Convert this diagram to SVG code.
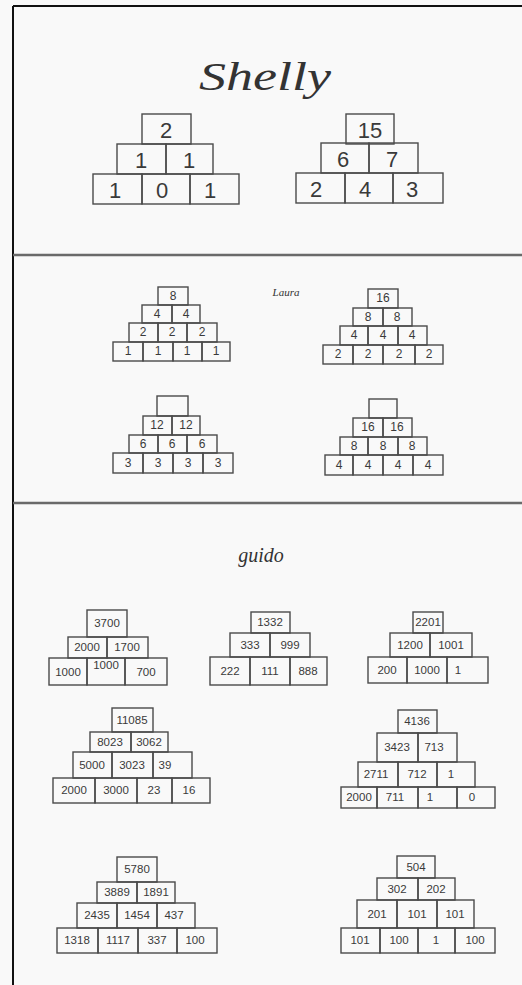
<svg xmlns="http://www.w3.org/2000/svg" width="522" height="985" viewBox="0 0 522 985">
<style>
.bg{fill:#f9f9f9}
.frame{stroke:#111;stroke-width:2;fill:none}
.sep{stroke:#6a6a6a;stroke-width:2.5;fill:none}
rect.c{fill:none;stroke:#4a4a4a;stroke-width:1.4}
text{font-family:"Liberation Sans",Arial,sans-serif;fill:#3a3a3a;text-anchor:middle;dominant-baseline:central}
.big text{font-size:22px}
.mid text{font-size:12px}
.sm text{font-size:11.5px}
.title{font-family:"Liberation Serif","DejaVu Serif",serif;font-style:italic;fill:#333}
</style>
<rect class="bg" x="0" y="0" width="522" height="985"/>
<g id="frame">
<line class="frame" x1="13" y1="6" x2="522" y2="6"/>
<line class="frame" x1="13" y1="6" x2="13" y2="985"/>
<line class="sep" x1="13" y1="255" x2="522" y2="255"/>
<line class="sep" x1="13" y1="503" x2="522" y2="503"/>
</g>
<g id="labels">
<text class="title" x="265" y="76" font-size="40" textLength="132" lengthAdjust="spacingAndGlyphs">Shelly</text>
<text class="title" x="286" y="292" font-size="11">Laura</text>
<text class="title" x="261" y="555" font-size="20">guido</text>
</g>
<g id="shelly-1" class="big">
<rect class="c" x="142" y="114" width="49" height="30"/><text x="166" y="130">2</text>
<rect class="c" x="117" y="144" width="49" height="30"/><text x="141" y="160">1</text>
<rect class="c" x="166" y="144" width="47" height="30"/><text x="189" y="160">1</text>
<rect class="c" x="93" y="174" width="49" height="30"/><text x="115" y="190">1</text>
<rect class="c" x="142" y="174" width="48" height="30"/><text x="162" y="190">0</text>
<rect class="c" x="190" y="174" width="49" height="30"/><text x="210" y="190">1</text>
</g>
<g id="shelly-2" class="big">
<rect class="c" x="346" y="114" width="48" height="30"/><text x="370" y="130">15</text>
<rect class="c" x="321" y="143" width="48" height="30"/><text x="343" y="159">6</text>
<rect class="c" x="369" y="143" width="49" height="30"/><text x="392" y="159">7</text>
<rect class="c" x="296" y="173" width="49" height="30"/><text x="316" y="189">2</text>
<rect class="c" x="345" y="173" width="48" height="30"/><text x="365" y="189">4</text>
<rect class="c" x="393" y="173" width="50" height="30"/><text x="412" y="189">3</text>
</g>
<g id="laura-1" class="mid">
<rect class="c" x="158" y="287" width="30" height="18"/><text x="173" y="296">8</text>
<rect class="c" x="142" y="305" width="30" height="18"/><text x="157" y="314">4</text>
<rect class="c" x="172" y="305" width="28" height="18"/><text x="186" y="314">4</text>
<rect class="c" x="129" y="323" width="29" height="19"/><text x="143" y="332">2</text>
<rect class="c" x="158" y="323" width="29" height="19"/><text x="172" y="332">2</text>
<rect class="c" x="187" y="323" width="30" height="19"/><text x="202" y="332">2</text>
<rect class="c" x="113" y="342" width="30" height="19"/><text x="128" y="351">1</text>
<rect class="c" x="143" y="342" width="30" height="19"/><text x="158" y="351">1</text>
<rect class="c" x="173" y="342" width="29" height="19"/><text x="187" y="351">1</text>
<rect class="c" x="202" y="342" width="28" height="19"/><text x="216" y="351">1</text>
</g>
<g id="laura-2" class="mid">
<rect class="c" x="368" y="289" width="30" height="19"/><text x="383" y="298">16</text>
<rect class="c" x="353" y="308" width="30" height="18"/><text x="368" y="317">8</text>
<rect class="c" x="383" y="308" width="29" height="18"/><text x="397" y="317">8</text>
<rect class="c" x="340" y="326" width="28" height="19"/><text x="354" y="335">4</text>
<rect class="c" x="368" y="326" width="30" height="19"/><text x="383" y="335">4</text>
<rect class="c" x="398" y="326" width="29" height="19"/><text x="412" y="335">4</text>
<rect class="c" x="323" y="345" width="30" height="19"/><text x="338" y="354">2</text>
<rect class="c" x="353" y="345" width="30" height="19"/><text x="368" y="354">2</text>
<rect class="c" x="383" y="345" width="32" height="19"/><text x="399" y="354">2</text>
<rect class="c" x="415" y="345" width="28" height="19"/><text x="429" y="354">2</text>
</g>
<g id="laura-3" class="mid">
<rect class="c" x="157" y="396" width="31" height="20"/>
<rect class="c" x="143" y="416" width="29" height="19"/><text x="157" y="425">12</text>
<rect class="c" x="172" y="416" width="28" height="19"/><text x="186" y="425">12</text>
<rect class="c" x="129" y="435" width="29" height="18"/><text x="143" y="444">6</text>
<rect class="c" x="158" y="435" width="29" height="18"/><text x="172" y="444">6</text>
<rect class="c" x="187" y="435" width="30" height="18"/><text x="202" y="444">6</text>
<rect class="c" x="113" y="453" width="30" height="20"/><text x="128" y="463">3</text>
<rect class="c" x="143" y="453" width="30" height="20"/><text x="158" y="463">3</text>
<rect class="c" x="173" y="453" width="30" height="20"/><text x="188" y="463">3</text>
<rect class="c" x="203" y="453" width="30" height="20"/><text x="218" y="463">3</text>
</g>
<g id="laura-4" class="mid">
<rect class="c" x="369" y="399" width="28" height="19"/>
<rect class="c" x="353" y="418" width="30" height="19"/><text x="368" y="427">16</text>
<rect class="c" x="383" y="418" width="29" height="19"/><text x="397" y="427">16</text>
<rect class="c" x="340" y="437" width="28" height="18"/><text x="354" y="446">8</text>
<rect class="c" x="368" y="437" width="30" height="18"/><text x="383" y="446">8</text>
<rect class="c" x="398" y="437" width="29" height="18"/><text x="412" y="446">8</text>
<rect class="c" x="325" y="455" width="28" height="20"/><text x="339" y="465">4</text>
<rect class="c" x="353" y="455" width="30" height="20"/><text x="368" y="465">4</text>
<rect class="c" x="383" y="455" width="30" height="20"/><text x="398" y="465">4</text>
<rect class="c" x="413" y="455" width="30" height="20"/><text x="428" y="465">4</text>
</g>
<g id="guido-1" class="sm">
<rect class="c" x="87" y="610" width="40" height="27"/><text x="107" y="623">3700</text>
<rect class="c" x="68" y="637" width="39" height="21"/><text x="87" y="647">2000</text>
<rect class="c" x="107" y="637" width="41" height="21"/><text x="127" y="647">1700</text>
<rect class="c" x="49" y="658" width="38" height="27"/><text x="68" y="672">1000</text>
<rect class="c" x="87" y="658" width="38" height="27"/><text x="106" y="665" font-size="8">1000</text>
<rect class="c" x="125" y="658" width="42" height="27"/><text x="146" y="672">700</text>
</g>
<g id="guido-2" class="sm">
<rect class="c" x="251" y="612" width="39" height="21"/><text x="270" y="622">1332</text>
<rect class="c" x="230" y="633" width="40" height="24"/><text x="250" y="645">333</text>
<rect class="c" x="270" y="633" width="40" height="24"/><text x="290" y="645">999</text>
<rect class="c" x="210" y="657" width="40" height="28"/><text x="230" y="671">222</text>
<rect class="c" x="250" y="657" width="40" height="28"/><text x="270" y="671">111</text>
<rect class="c" x="290" y="657" width="37" height="28"/><text x="308" y="671" font-size="9">888</text>
</g>
<g id="guido-3" class="sm">
<rect class="c" x="413" y="612" width="30" height="21"/><text x="428" y="622">2201</text>
<rect class="c" x="390" y="633" width="40" height="24"/><text x="410" y="645">1200</text>
<rect class="c" x="430" y="633" width="42" height="24"/><text x="451" y="645">1001</text>
<rect class="c" x="368" y="657" width="39" height="26"/><text x="387" y="670">200</text>
<rect class="c" x="407" y="657" width="40" height="26"/><text x="427" y="670">1000</text>
<rect class="c" x="447" y="657" width="41" height="26"/><text x="458" y="670">1</text>
</g>
<g id="guido-4" class="sm">
<rect class="c" x="112" y="708" width="41" height="24"/><text x="132" y="720">11085</text>
<rect class="c" x="90" y="732" width="41" height="20"/><text x="110" y="742">8023</text>
<rect class="c" x="131" y="732" width="37" height="20"/><text x="149" y="742">3062</text>
<rect class="c" x="73" y="752" width="39" height="26"/><text x="92" y="765">5000</text>
<rect class="c" x="112" y="752" width="41" height="26"/><text x="132" y="765">3023</text>
<rect class="c" x="153" y="752" width="39" height="26"/><text x="165" y="765">39</text>
<rect class="c" x="53" y="778" width="42" height="25"/><text x="74" y="790">2000</text>
<rect class="c" x="95" y="778" width="42" height="25"/><text x="116" y="790">3000</text>
<rect class="c" x="137" y="778" width="35" height="25"/><text x="154" y="790">23</text>
<rect class="c" x="172" y="778" width="38" height="25"/><text x="189" y="790">16</text>
</g>
<g id="guido-5" class="sm">
<rect class="c" x="398" y="710" width="39" height="23"/><text x="417" y="721">4136</text>
<rect class="c" x="377" y="733" width="41" height="29"/><text x="397" y="747">3423</text>
<rect class="c" x="418" y="733" width="39" height="29"/><text x="434" y="747">713</text>
<rect class="c" x="358" y="762" width="40" height="25"/><text x="376" y="774">2711</text>
<rect class="c" x="398" y="762" width="39" height="25"/><text x="417" y="774">712</text>
<rect class="c" x="437" y="762" width="38" height="25"/><text x="451" y="774">1</text>
<rect class="c" x="341" y="787" width="36" height="21"/><text x="359" y="797">2000</text>
<rect class="c" x="377" y="787" width="41" height="21"/><text x="395" y="797">711</text>
<rect class="c" x="418" y="787" width="39" height="21"/><text x="430" y="797">1</text>
<rect class="c" x="457" y="787" width="38" height="21"/><text x="472" y="797">0</text>
</g>
<g id="guido-6" class="sm">
<rect class="c" x="117" y="857" width="40" height="25"/><text x="137" y="869">5780</text>
<rect class="c" x="97" y="882" width="40" height="21"/><text x="117" y="892">3889</text>
<rect class="c" x="137" y="882" width="38" height="21"/><text x="156" y="892">1891</text>
<rect class="c" x="77" y="903" width="40" height="25"/><text x="97" y="915">2435</text>
<rect class="c" x="117" y="903" width="40" height="25"/><text x="137" y="915">1454</text>
<rect class="c" x="157" y="903" width="38" height="25"/><text x="174" y="915">437</text>
<rect class="c" x="57" y="928" width="41" height="25"/><text x="77" y="940">1318</text>
<rect class="c" x="98" y="928" width="40" height="25"/><text x="118" y="940">1117</text>
<rect class="c" x="138" y="928" width="39" height="25"/><text x="157" y="940">337</text>
<rect class="c" x="177" y="928" width="40" height="25"/><text x="195" y="940">100</text>
</g>
<g id="guido-7" class="sm">
<rect class="c" x="397" y="856" width="38" height="22"/><text x="416" y="867">504</text>
<rect class="c" x="377" y="878" width="41" height="22"/><text x="397" y="889">302</text>
<rect class="c" x="418" y="878" width="37" height="22"/><text x="436" y="889">202</text>
<rect class="c" x="357" y="900" width="40" height="28"/><text x="377" y="914">201</text>
<rect class="c" x="397" y="900" width="40" height="28"/><text x="417" y="914">101</text>
<rect class="c" x="437" y="900" width="37" height="28"/><text x="455" y="914">101</text>
<rect class="c" x="341" y="928" width="39" height="25"/><text x="360" y="940">101</text>
<rect class="c" x="380" y="928" width="38" height="25"/><text x="399" y="940">100</text>
<rect class="c" x="418" y="928" width="37" height="25"/><text x="436" y="940">1</text>
<rect class="c" x="455" y="928" width="40" height="25"/><text x="475" y="940">100</text>
</g>
</svg>
